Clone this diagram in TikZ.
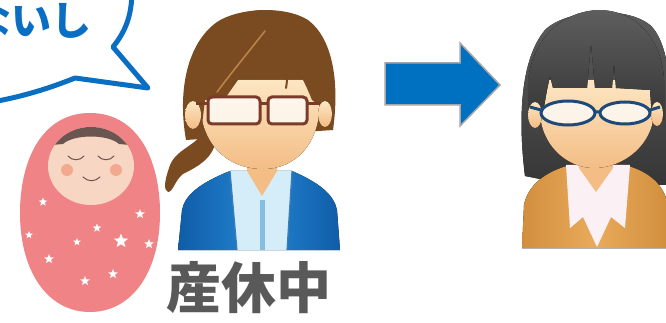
\documentclass[tikz,border=0pt]{standalone}
\usepackage{fontspec}
\newfontfamily\jpfont{Noto Sans CJK JP}
\usetikzlibrary{shapes.geometric}
\definecolor{bubbleblue}{HTML}{0A6EC2}
\definecolor{swaddle}{HTML}{EF8386}
\definecolor{babyskin}{HTML}{F8D6C4}
\definecolor{babyhair}{HTML}{6A5550}
\definecolor{blush}{HTML}{F3A98E}
\definecolor{skinlight}{HTML}{FDE6C2}
\definecolor{skindark}{HTML}{F3BD85}
\definecolor{brownhair}{HTML}{7A4A20}
\definecolor{brownhairlight}{HTML}{B8844C}
\definecolor{framebrown}{HTML}{7B3B2B}
\definecolor{jacket}{HTML}{2585D2}
\definecolor{jacketdark}{HTML}{0F5DA8}
\definecolor{shirt}{HTML}{D5EDF8}
\definecolor{placket}{HTML}{86BDE0}
\definecolor{arrowblue}{HTML}{0070C0}
\definecolor{grayhair}{HTML}{363636}
\definecolor{grayhairlight}{HTML}{5E5E5E}
\definecolor{navy}{HTML}{1D4A78}
\definecolor{cardigan}{HTML}{E9AA5B}
\definecolor{cardigandark}{HTML}{D18F3E}
\definecolor{collarwhite}{HTML}{FBF0F4}
\definecolor{labelgray}{HTML}{595959}
\begin{document}
\begin{tikzpicture}[x=1pt,y=-1pt,
  skin/.style={top color=skinlight,bottom color=skindark},
  starmark/.style={star,star points=5,star point ratio=2.3,fill=white,inner sep=0pt,minimum size=#1},
  starmark/.default=9pt,
  lens/.style={line width=3pt,fill=white,fill opacity=0.75}]
\useasboundingbox (0,0) rectangle (666,323);
\clip (0,0) rectangle (666,323);

% speech bubble, running off the top-left corner
\draw[bubbleblue,line width=5pt,line join=round]
  (-20,104) .. controls (20,98) and (50,88) .. (75,78) -- (148,88) -- (113,47)
  .. controls (124,33) and (132,18) .. (132,-10);
\node[text=bubbleblue,font=\jpfont\bfseries\fontsize{40}{40}\selectfont,anchor=east,inner sep=0pt]
  (bubbletext) at (92,20) {ないし};

% swaddled baby
\fill[swaddle] (90,113) .. controls (138,113) and (160,160) .. (160,213)
  .. controls (160,272) and (132,312) .. (90,312)
  .. controls (48,312) and (20,272) .. (20,213)
  .. controls (20,160) and (42,113) .. (90,113) -- cycle;
\fill[babyskin] (91,166) ellipse [x radius=43,y radius=39];
\begin{scope}
  \clip (91,166) ellipse [x radius=43,y radius=39];
  \fill[babyhair] (40,100) -- (140,100) -- (140,146) -- (119,144)
    .. controls (108,134) and (74,134) .. (63,144) -- (40,146) -- cycle;
\end{scope}
\draw[babyhair,line width=1pt,line cap=round] (68,156) .. controls (72,161) and (80,161) .. (84,156);
\draw[babyhair,line width=1pt,line cap=round] (98,156) .. controls (102,161) and (110,161) .. (114,156);
\fill[blush] (67,170) circle [radius=6];
\fill[blush] (116,170) circle [radius=6];
\draw[babyhair,line width=1pt,line cap=round] (83,177) .. controls (88,182) and (95,182) .. (100,177);
\node[starmark] (s1) at (43,202) {};
\node[starmark=10pt] (s2) at (140,214) {};
\node[starmark] (s3) at (97,228) {};
\node[starmark=8pt] (s4) at (29,235) {};
\node[starmark=15pt] (s5) at (121,241) {};
\node[starmark=8pt] (s6) at (77,242) {};
\node[starmark=10pt] (s7) at (149,244) {};
\node[starmark=10pt] (s8) at (49,259) {};
\node[starmark=10pt] (s9) at (113,274) {};
\node[starmark=10pt] (s10) at (85,281) {};

% woman with ponytail
\fill[brownhair] (208,126) .. controls (196,148) and (175,148) .. (169,168)
  .. controls (165,180) and (163,190) .. (168,192)
  .. controls (173,192) and (175,180) .. (183,174)
  .. controls (199,166) and (213,158) .. (216,140) -- cycle;
\fill[brownhair] (186,140) .. controls (178,95) and (185,45) .. (217,22)
  .. controls (238,8) and (284,5) .. (308,20)
  .. controls (332,38) and (340,80) .. (333,130) -- cycle;
\fill[left color=jacketdark,right color=jacketdark,middle color=jacket]
  (178,250) -- (182,210) .. controls (185,195) and (200,183) .. (230,171) -- (292,171)
  .. controls (320,183) and (334,195) .. (337,210) -- (340,250) -- cycle;
\fill[shirt] (230,171) -- (292,171) -- (287,250) -- (237,250) -- cycle;
\draw[jacketdark!80,line width=1.2pt] (230,171) -- (237,250) (292,171) -- (287,250);
\draw[placket,line width=5pt] (262,200) -- (262,250);
\fill[skindark] (247,158) -- (277,158) -- (277,171) -- (262,196) -- (247,171) -- cycle;
\fill[skin] (200,80) -- (200,100) .. controls (200,145) and (228,169) .. (263,169)
  .. controls (295,169) and (320,145) .. (320,100) -- (320,80) -- cycle;
\fill[brownhair] (190,125) -- (187,80) .. controls (192,40) and (225,12) .. (262,10)
  .. controls (295,10) and (324,30) .. (329,70) -- (328,112) -- (312,100)
  .. controls (302,75) and (288,50) .. (270,34)
  .. controls (258,52) and (242,74) .. (226,97) -- (205,100) -- (202,125) -- cycle;
\draw[brownhair,line width=2pt,line cap=round] (283,57) .. controls (287,67) and (288,78) .. (286,88);
\draw[brownhairlight,line width=1.6pt,line cap=round] (265,31) .. controls (250,50) and (232,72) .. (217,92);
\fill[skin] (193,115) ellipse [x radius=8,y radius=14];
\fill[skin] (325,114) ellipse [x radius=7,y radius=13];
\draw[framebrown,lens,rounded corners=4pt] (208,97) rectangle (260,124);
\draw[framebrown,lens,rounded corners=4pt] (268,97) rectangle (307,124);
\draw[framebrown,line width=3pt] (260,104) -- (268,104) (208,104) -- (196,104) (307,104) -- (320,104);
\node[text=labelgray,font=\jpfont\bfseries\fontsize{55}{55}\selectfont,inner sep=0pt]
  (leave) at (249,288) {産休中};

% arrow
\draw[draw=gray!70,line width=1.5pt,fill=arrowblue]
  (385,63) -- (460,63) -- (460,43) -- (500,85) -- (460,126) -- (460,105) -- (385,105) -- cycle;

% woman with bob hair
\fill[top color=grayhairlight,bottom color=grayhair]
  (525,176) .. controls (518,120) and (520,60) .. (545,30)
  .. controls (565,10) and (625,5) .. (650,25)
  .. controls (672,45) and (675,110) .. (668,185) -- (650,185) -- (545,180) -- cycle;
\fill[left color=cardigandark,right color=cardigandark,middle color=cardigan]
  (522,248) -- (524,205) .. controls (528,185) and (545,172) .. (570,165) -- (625,165)
  .. controls (650,172) and (664,185) .. (668,205) -- (668,248) -- cycle;
\draw[gray!60,line width=1pt] (522,248) -- (668,248);
\fill[collarwhite] (566,165) -- (630,165) -- (625,228) -- (611,217) -- (597,247)
  -- (583,217) -- (570,228) -- cycle;
\fill[skindark] (579,155) -- (613,155) -- (613,168) -- (596,192) -- (579,168) -- cycle;
\fill[skin] (540,80) -- (540,110) .. controls (540,145) and (567,168) .. (594,168)
  .. controls (623,168) and (654,145) .. (654,110) -- (654,80) -- cycle;
\fill[top color=grayhairlight,bottom color=grayhair]
  (528,120) -- (528,80) .. controls (533,40) and (560,12) .. (598,10)
  .. controls (637,10) and (662,40) .. (664,80) -- (664,120) -- (652,118) -- (650,90)
  -- (616,88) -- (614,63) -- (612,88) -- (595,88) -- (591,43) -- (587,88)
  -- (553,88) -- (550,76) -- (547,90) -- (542,118) -- cycle;
\fill[skin] (535,115) ellipse [x radius=7,y radius=13];
\fill[skin] (657,114) ellipse [x radius=6,y radius=12];
\draw[navy,lens] (568,113) ellipse [x radius=27,y radius=12];
\draw[navy,lens] (625,113) ellipse [x radius=25,y radius=11];
\draw[navy,line width=3pt] (595,112) -- (600,112) (541,110) -- (530,107) (650,110) -- (660,107);
\end{tikzpicture}
\end{document}
